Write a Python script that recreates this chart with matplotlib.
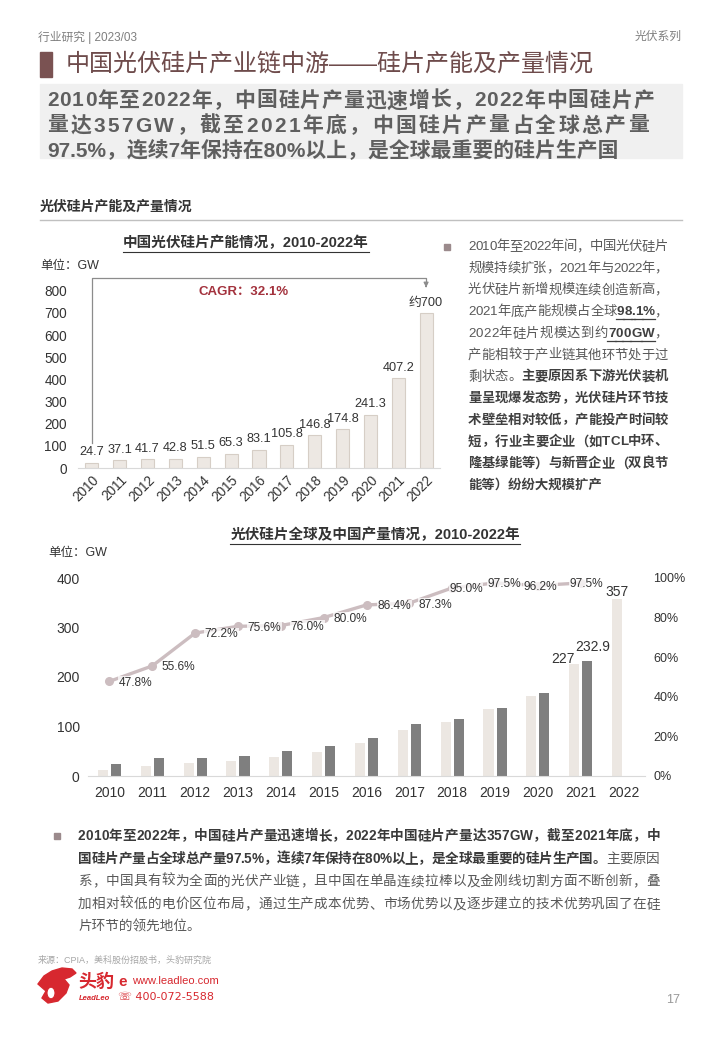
import matplotlib
matplotlib.use("Agg")
import matplotlib.pyplot as plt
from matplotlib.lines import Line2D
from matplotlib.patches import Rectangle, Polygon, Circle
import numpy as np

plt.rcParams['font.family'] = ['Liberation Sans', 'Noto Sans CJK SC', 'DejaVu Sans']

# ---- data ----
years = ['2010', '2011', '2012', '2013', '2014', '2015', '2016',
         '2017', '2018', '2019', '2020', '2021', '2022']
capacity = [24.7, 37.1, 41.7, 42.8, 51.5, 65.3, 83.1, 105.8, 146.8, 174.8, 241.3, 407.2, 700]
capacity_labels = ['24.7', '37.1', '41.7', '42.8', '51.5', '65.3', '83.1', '105.8',
                   '146.8', '174.8', '241.3', '407.2', '约700']
cagr = 'CAGR：32.1%'

china_output = [11.7, 20.0, 26.0, 30.0, 38.3, 48.0, 65.7, 92.0, 110.0, 134.7, 161.3, 227.0, 357.0]
global_output = [24.5, 36.0, 36.0, 39.7, 50.4, 60.0, 76.0, 105.4, 115.8, 138.2, 167.7, 232.9]
china_share = [47.8, 55.6, 72.2, 75.6, 76.0, 80.0, 86.4, 87.3, 95.0, 97.5, 96.2, 97.5]

W, H = 720, 1040
fig = plt.figure(figsize=(7.2, 10.4), dpi=100)
renderer = fig.canvas.get_renderer()


def fx(x):
    return x / W


def fy(y):
    return 1 - y / H


def put_line(x, y, segs, size, styles, width=None):
    # draws one line of text made of styled pieces, optionally stretched to width
    if width is None:
        cx = x
        for s, kind in segs:
            st = styles[kind]
            t = fig.text(fx(cx), fy(y), s, fontsize=size, va='center', ha='left',
                         color=st['color'], fontweight=st['weight'])
            w = t.get_window_extent(renderer).width
            if st.get('u'):
                fig.add_artist(Line2D([fx(cx), fx(cx + w)], [fy(y + size * 0.75), fy(y + size * 0.75)],
                                      color=st['color'], lw=0.9))
            cx += w + size * 0.12
        return
    chars = []
    for s, kind in segs:
        for ch in s:
            st = styles[kind]
            t = fig.text(fx(x), fy(y), ch, fontsize=size, va='center', ha='left',
                         color=st['color'], fontweight=st['weight'])
            chars.append((t, st))
    ws = [t.get_window_extent(renderer).width for t, _ in chars]
    gap = (width - sum(ws)) / (len(chars) - 1)
    cx = x
    for (t, st), w in zip(chars, ws):
        t.set_x(fx(cx))
        if st.get('u'):
            fig.add_artist(Line2D([fx(cx - 1), fx(cx + w + gap * 0.6)],
                                  [fy(y + size * 0.75), fy(y + size * 0.75)],
                                  color=st['color'], lw=0.9))
        cx += w + gap


def underlined_title(x, y, s, size):
    t = fig.text(fx(x), fy(y), s, fontsize=size, fontweight='bold', color='#333333',
                 ha='center', va='center')
    bb = t.get_window_extent(renderer)
    fig.add_artist(Line2D([bb.x0 / W, bb.x1 / W], [(bb.y0 - 2) / H, (bb.y0 - 2) / H],
                          color='#333333', lw=0.8))


# ---- page header ----
fig.text(fx(38), fy(37), '行业研究 | 2023/03', fontsize=8.5, color='#7f7f7f', va='center')
fig.text(fx(682), fy(37), '光伏系列', fontsize=8.5, color='#7f7f7f', va='center', ha='right')
fig.add_artist(Rectangle((fx(40), fy(77)), 12 / W, 25 / H, color='#7a5252', transform=fig.transFigure))
fig.text(fx(66), fy(64), '中国光伏硅片产业链中游——硅片产能及产量情况', fontsize=17.3,
         color='#6e4b4b', va='center')
fig.add_artist(Rectangle((fx(40), fy(158)), 642 / W, 74 / H, color='#f0f0f0',
                         transform=fig.transFigure, zorder=0))
hst = {'h': dict(color='#5f5f5f', weight='bold')}
put_line(47, 101, [('2010年至2022年，中国硅片产量迅速增长，2022年中国硅片产', 'h')], 15, hst, width=607)
put_line(47, 126, [('量达357GW，截至2021年底，中国硅片产量占全球总产量', 'h')], 15, hst, width=602)
put_line(47, 150, [('97.5%，连续7年保持在80%以上，是全球最重要的硅片生产国', 'h')], 15, hst)

fig.text(fx(40), fy(207), '光伏硅片产能及产量情况', fontsize=10, fontweight='bold', color='#333333',
         va='center')
fig.add_artist(Line2D([fx(40), fx(682)], [fy(220), fy(220)], color='#c0c0c0', lw=1))

# ---- capacity chart ----
x = np.arange(len(years))
ax1 = fig.add_axes([fx(78), fy(468), 362 / W, (468 - 290.7) / H])
ax1.bar(x, capacity, width=0.47, color='#ede8e3', edgecolor='#d6cec6', linewidth=0.8)
for i, (v, lab) in enumerate(zip(capacity, capacity_labels)):
    ax1.annotate(lab, (i, v), xytext=(0, 3), textcoords='offset points', ha='center',
                 va='bottom', fontsize=9.2, color='#333333')
ax1.set_xlim(-0.5, 12.5)
ax1.set_ylim(0, 800)
ax1.set_yticks(range(0, 801, 100))
ax1.set_xticks(x)
ax1.set_xticklabels(years, rotation=45, ha='right', va='top', rotation_mode='anchor')
ax1.tick_params(length=0, labelsize=9.8, colors='#333333')
ax1.tick_params(axis='y', pad=8)
for s in ['top', 'right', 'left']:
    ax1.spines[s].set_visible(False)
ax1.spines['bottom'].set_color('#d9d9d9')
ax1.plot([0, 0, 12, 12], [115, 857, 857, 830], color='#8c8c8c', lw=0.9, clip_on=False)
ax1.annotate('', xy=(12, 802), xytext=(12, 832), annotation_clip=False,
             arrowprops=dict(arrowstyle='-|>', color='#8c8c8c', lw=0.9, mutation_scale=7))
ax1.text(5.44, 794, cagr, ha='center', va='center', fontsize=9.5, fontweight='bold',
         color='#a3323d')
underlined_title(246, 243, '中国光伏硅片产能情况，2010-2022年', 10.5)
fig.text(fx(40), fy(266), '单位：GW', fontsize=9, color='#333333', va='center')

# ---- right text ----
rst = {'n': dict(color='#595959', weight='normal'),
       'b': dict(color='#404040', weight='bold'),
       'bu': dict(color='#404040', weight='bold', u=True)}
right_lines = [
    [('2010年至2022年间，中国光伏硅片', 'n')],
    [('规模持续扩张，2021年与2022年，', 'n')],
    [('光伏硅片新增规模连续创造新高，', 'n')],
    [('2021年底产能规模占全球', 'n'), ('98.1%', 'bu'), ('，', 'n')],
    [('2022年硅片规模达到约', 'n'), ('700GW', 'bu'), ('，', 'n')],
    [('产能相较于产业链其他环节处于过', 'n')],
    [('剩状态。', 'n'), ('主要原因系下游光伏装机', 'b')],
    [('量呈现爆发态势，光伏硅片环节技', 'b')],
    [('术壁垒相对较低，产能投产时间较', 'b')],
    [('短，行业主要企业（如TCL中环、', 'b')],
    [('隆基绿能等）与新晋企业（双良节', 'b')],
    [('能等）纷纷大规模扩产', 'b')],
]
fig.add_artist(Line2D([fx(447)], [fy(247)], marker='s', ms=5, color='#9b8a8c', lw=0))
for k, segs in enumerate(right_lines):
    w = None if k == len(right_lines) - 1 else 200
    put_line(468, 247 + k * 21.7, segs, 9.6, rst, width=w)

# ---- output chart ----
ax2 = fig.add_axes([fx(88), fy(776), 557 / W, 198 / H])
off = 0.152
ax2.bar(x - off, china_output, width=0.235, color='#ece7e2', zorder=2)
ax2.bar(x[:len(global_output)] + off, global_output, width=0.235, color='#7f7f7f', zorder=2)
ax2.set_xlim(-0.5, 12.5)
ax2.set_ylim(0, 400)
ax2.set_yticks(range(0, 401, 100))
ax2.set_xticks(x)
ax2.set_xticklabels(years)
ax2.tick_params(length=0, labelsize=10, colors='#333333')
ax2.tick_params(axis='y', pad=6)
ax2.tick_params(axis='x', pad=7)
for s in ['top', 'right', 'left']:
    ax2.spines[s].set_visible(False)
ax2.spines['bottom'].set_color('#d9d9d9')
ax2.annotate('227', (11 - off, china_output[11]), xytext=(-8, 3), textcoords='offset points',
             ha='center', va='center', fontsize=10, color='#333333')
ax2.annotate('232.9', (11 + off, global_output[11]), xytext=(4, 10), textcoords='offset points',
             ha='center', va='center', fontsize=10, color='#333333')
ax2.annotate('357', (12 - off, china_output[12]), xytext=(0, 5), textcoords='offset points',
             ha='center', va='center', fontsize=10, color='#333333')

ax3 = ax2.twinx()
ax3.set_ylim(0, 1)
ax3.set_yticks(np.linspace(0, 1, 6))
ax3.set_yticklabels(['0%', '20%', '40%', '60%', '80%', '100%'])
ax3.tick_params(length=0, labelsize=9, colors='#333333', pad=6)
for s in ['top', 'right', 'left', 'bottom']:
    ax3.spines[s].set_visible(False)
ax3.plot(x[:len(china_share)], np.array(china_share) / 100, color='#ccbdc0', lw=2.4,
         marker='o', ms=5.5, zorder=3)
label_dx = [19, 19, 19, 19, 19, 19, 20, 19, 10, 7, 2, 4]
for i, v in enumerate(china_share):
    ax3.annotate(f'{v:.1f}%', (i, v / 100), xytext=(label_dx[i], -1), textcoords='offset points',
                 ha='center', va='center', fontsize=8.6, color='#333333', zorder=4,
                 bbox=dict(boxstyle='square,pad=0.05', fc='white', ec='none', alpha=0.75))
underlined_title(375, 535, '光伏硅片全球及中国产量情况，2010-2022年', 10.5)
fig.text(fx(48), fy(553), '单位：GW', fontsize=9, color='#333333', va='center')

# ---- bottom text ----
bst = {'n': dict(color='#595959', weight='normal'),
       'b': dict(color='#3a3a3a', weight='bold')}
bottom_lines = [
    [('2010年至2022年，中国硅片产量迅速增长，2022年中国硅片产量达357GW，截至2021年底，中', 'b')],
    [('国硅片产量占全球总产量97.5%，连续7年保持在80%以上，是全球最重要的硅片生产国。', 'b'), ('主要原因', 'n')],
    [('系，中国具有较为全面的光伏产业链，且中国在单晶连续拉棒以及金刚线切割方面不断创新，叠', 'n')],
    [('加相对较低的电价区位布局，通过生产成本优势、市场优势以及逐步建立的技术优势巩固了在硅', 'n')],
    [('片环节的领先地位。', 'n')],
]
fig.add_artist(Line2D([fx(57)], [fy(836)], marker='s', ms=5, color='#9b8a8c', lw=0))
for k, segs in enumerate(bottom_lines):
    w = None if k == len(bottom_lines) - 1 else 582
    put_line(78, 836 + k * 22.7, segs, 9.8, bst, width=w)

# ---- footer ----
fig.text(fx(38), fy(960), '来源：CPIA，美科股份招股书，头豹研究院', fontsize=6.5, color='#a6a6a6',
         va='center')
# rough leopard-head logo
head = [(38, 984), (44, 976), (52, 971), (62, 968), (72, 969), (76, 973), (70, 977),
        (64, 979), (69, 985), (66, 993), (58, 1001), (48, 1003), (42, 998), (46, 991)]
fig.add_artist(Polygon([(fx(a), fy(b)) for a, b in head], closed=True, color='#d7282f',
                       transform=fig.transFigure))
fig.add_artist(Circle((fx(51), fy(993)), 4 / W, transform=fig.transFigure, fc='white',
                      ec='#d7282f', lw=0.8))
fig.text(fx(78), fy(982), '头豹', fontsize=13, fontweight='bold', color='#d7282f', va='center')
fig.text(fx(79), fy(998), 'LeadLeo', fontsize=5.5, fontweight='bold', style='italic',
         color='#d7282f', va='center')
fig.text(fx(118), fy(982), 'e', fontsize=11, fontweight='bold', color='#d7282f', va='center')
fig.text(fx(132), fy(981), 'www.leadleo.com', fontsize=8, color='#d7282f', va='center')
fig.text(fx(118), fy(997), '☏ 400-072-5588', fontsize=8, color='#d7282f', va='center',
         family=['DejaVu Sans'])
fig.text(fx(680), fy(1000), '17', fontsize=9, color='#999999', va='center', ha='right')

fig.savefig('out.png', dpi=100, facecolor='white')
